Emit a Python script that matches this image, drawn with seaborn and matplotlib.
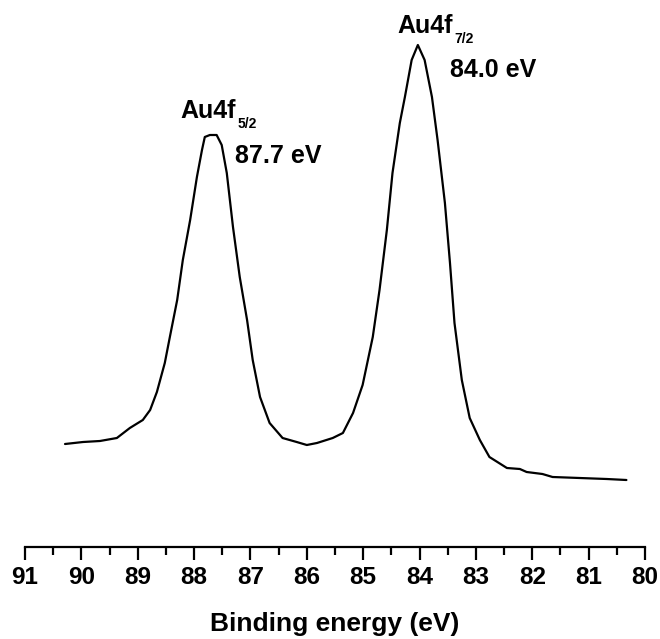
import numpy as np
import pandas as pd
import matplotlib
matplotlib.use('Agg')
import matplotlib.pyplot as plt
import seaborn as sns
from matplotlib.ticker import MultipleLocator

# Au 4f XPS spectrum (arbitrary units)
binding_energy = [90.29, 89.97, 89.67, 89.37, 89.14, 88.91, 88.78, 88.66, 88.52, 88.43,
                  88.30, 88.20, 88.07, 87.95, 87.86, 87.81, 87.72, 87.60, 87.51, 87.42,
                  87.31, 87.19, 87.06, 86.96, 86.83, 86.66, 86.43, 86.18, 86.00, 85.82,
                  85.54, 85.36, 85.18, 85.01, 84.83, 84.71, 84.58, 84.48, 84.35, 84.26,
                  84.14, 84.03, 83.91, 83.78, 83.68, 83.55, 83.46, 83.38, 83.25, 83.11,
                  82.93, 82.76, 82.45, 82.22, 82.10, 81.82, 81.64, 81.16, 80.68, 80.33]
intensity = [103, 105, 106, 109, 119, 127, 137, 155, 184, 210,
             247, 287, 327, 370, 397, 410, 412, 412, 402, 374,
             320, 270, 227, 187, 150, 124, 109, 105, 102, 104,
             109, 114, 134, 162, 210, 257, 317, 374, 424, 450,
             487, 502, 487, 450, 407, 344, 284, 224, 167, 129,
             107, 90, 79, 78, 75, 73, 70, 69, 68, 67]

tick_values = list(range(80, 92))


def main():
    df = pd.DataFrame({'energy': binding_energy, 'intensity': intensity})

    sns.set_style('white')
    plt.rcParams['font.family'] = ['Liberation Sans', 'DejaVu Sans']
    plt.rcParams['text.color'] = 'black'
    plt.rcParams['axes.labelcolor'] = 'black'
    plt.rcParams['xtick.color'] = 'black'

    fig = plt.figure(figsize=(6.6, 6.39), dpi=100)
    ax = fig.add_axes([25 / 660, 92 / 639, 620 / 660, 547 / 639])

    sns.lineplot(data=df, x='energy', y='intensity', ax=ax, color='black',
                 linewidth=1.6, sort=False, estimator=None)

    ax.set_xlim(91, 80)
    ax.set_ylim(0, 547)
    ax.set_xticks(tick_values)
    ax.xaxis.set_minor_locator(MultipleLocator(0.5))
    ax.set_xticklabels([str(t) for t in tick_values], fontsize=17.5, fontweight='bold',
                       family=['Liberation Sans Narrow', 'Liberation Sans'])
    ax.set_yticks([])
    ax.set_ylabel('')
    ax.set_xlabel('Binding energy (eV)', fontsize=19, fontweight='bold', labelpad=16)

    for side in ['top', 'left', 'right']:
        ax.spines[side].set_visible(False)
    ax.spines['bottom'].set_linewidth(1.6)
    ax.spines['bottom'].set_color('black')
    ax.tick_params(axis='x', which='major', direction='out', length=9, width=1.6,
                   color='black', pad=5, bottom=True)
    ax.tick_params(axis='x', which='minor', direction='out', length=6, width=1.6,
                   color='black', bottom=True)

    # peak labels
    ax.text(88.25, 429, 'Au4f', fontsize=18, fontweight='bold', ha='left', va='baseline')
    ax.text(87.22, 419, '5/2', fontsize=10, fontweight='bold', ha='left', va='baseline')
    ax.text(87.28, 384, '87.7 eV', fontsize=18, fontweight='bold', ha='left', va='baseline')
    ax.text(84.40, 514, 'Au4f', fontsize=18, fontweight='bold', ha='left', va='baseline')
    ax.text(83.38, 504, '7/2', fontsize=10, fontweight='bold', ha='left', va='baseline')
    ax.text(83.46, 470, '84.0 eV', fontsize=18, fontweight='bold', ha='left', va='baseline')

    fig.savefig('out.png', dpi=100)


if __name__ == '__main__':
    main()
